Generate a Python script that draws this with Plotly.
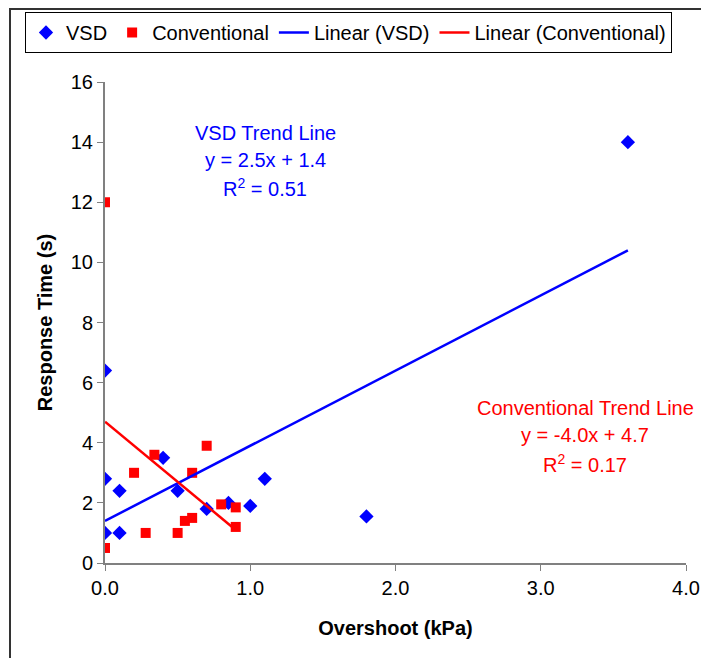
import plotly.graph_objects as go

vsd_x = [0.0, 0.0, 0.0, 0.1, 0.1, 0.4, 0.5, 0.7, 0.85, 1.0, 1.1, 1.8, 3.6]
vsd_y = [6.4, 2.8, 1.0, 2.4, 1.0, 3.5, 2.4, 1.8, 2.0, 1.9, 2.8, 1.55, 14.0]

conv_x = [0.0, 0.0, 0.2, 0.34, 0.28, 0.5, 0.55, 0.6, 0.6, 0.7, 0.8, 0.9, 0.9]
conv_y = [12.0, 0.5, 3.0, 3.6, 1.0, 1.0, 1.4, 1.5, 3.0, 3.9, 1.95, 1.85, 1.2]

vsd_fit = (2.5, 1.4)
conv_fit = (-4.0, 4.7)

W, H = 709, 658
OFF = 8  # page body margin
L, T = 105 - OFF, 82 - OFF
pw, ph = 581, 481
R = W - L - pw
B = H - T - ph

def px(x):
    return (x - OFF - L) / pw

def py(y):
    return (T + ph - (y - OFF)) / ph

font = "Liberation Sans, Arial, sans-serif"
FS = 20

fig = go.Figure()
fig.add_trace(go.Scatter(x=vsd_x, y=vsd_y, mode="markers", name="VSD",
                         marker=dict(symbol="diamond", color="#0000FF", size=11)))
fig.add_trace(go.Scatter(x=conv_x, y=conv_y, mode="markers", name="Conventional",
                         marker=dict(symbol="square", color="#FF0000", size=10)))
vx = [0.0, max(vsd_x)]
fig.add_trace(go.Scatter(x=vx, y=[vsd_fit[0] * v + vsd_fit[1] for v in vx], mode="lines",
                         name="Linear (VSD)", line=dict(color="#0000FF", width=2.5)))
cx = [0.0, max(conv_x)]
fig.add_trace(go.Scatter(x=cx, y=[conv_fit[0] * v + conv_fit[1] for v in cx], mode="lines",
                         name="Linear (Conventional)", line=dict(color="#FF0000", width=2.5)))

annos = [
    ("VSD Trend Line", 265, 133, "#0000FF"),
    ("y = 2.5x + 1.4", 265, 160, "#0000FF"),
    ("R<sup>2</sup> = 0.51", 265, 187, "#0000FF"),
    ("Conventional Trend Line", 585, 408, "#FF0000"),
    ("y = -4.0x + 4.7", 585, 435, "#FF0000"),
    ("R<sup>2</sup> = 0.17", 585, 463, "#FF0000"),
]
for text, ax, ay, col in annos:
    fig.add_annotation(text=text, xref="paper", yref="paper", x=px(ax), y=py(ay),
                       showarrow=False, font=dict(size=FS, color=col, family=font),
                       xanchor="center", yanchor="middle")

fig.add_shape(type="rect", xref="paper", yref="paper",
              x0=px(10), x1=px(730), y0=py(680), y1=py(9),
              line=dict(color="#333333", width=2))

fig.update_layout(
    width=W, height=H,
    margin=dict(l=L, r=R, t=T, b=B, autoexpand=False),
    paper_bgcolor="white", plot_bgcolor="white",
    font=dict(family=font, size=FS, color="black"),
    showlegend=True,
    legend=dict(orientation="h", x=px(25), y=py(12), xanchor="left", yanchor="top",
                bordercolor="black", borderwidth=1, font=dict(size=20),
                itemwidth=30, tracegroupgap=0),
    xaxis=dict(range=[0, 4.0], tickvals=[0, 1, 2, 3, 4], tickformat=".1f",
               showgrid=False, zeroline=False, showline=True, linecolor="#808080",
               linewidth=2, ticks="outside", tickcolor="#808080", ticklen=6,
               title=dict(text="<b>Overshoot (kPa)</b>", font=dict(size=FS), standoff=23)),
    yaxis=dict(range=[0, 16], tickvals=list(range(0, 17, 2)),
               showgrid=False, zeroline=False, showline=True, linecolor="#808080",
               linewidth=2, ticks="outside", tickcolor="#808080", ticklen=6,
               title=dict(text="<b>Response Time (s)</b>", font=dict(size=FS), standoff=13)),
)

fig.write_html("out.html")
